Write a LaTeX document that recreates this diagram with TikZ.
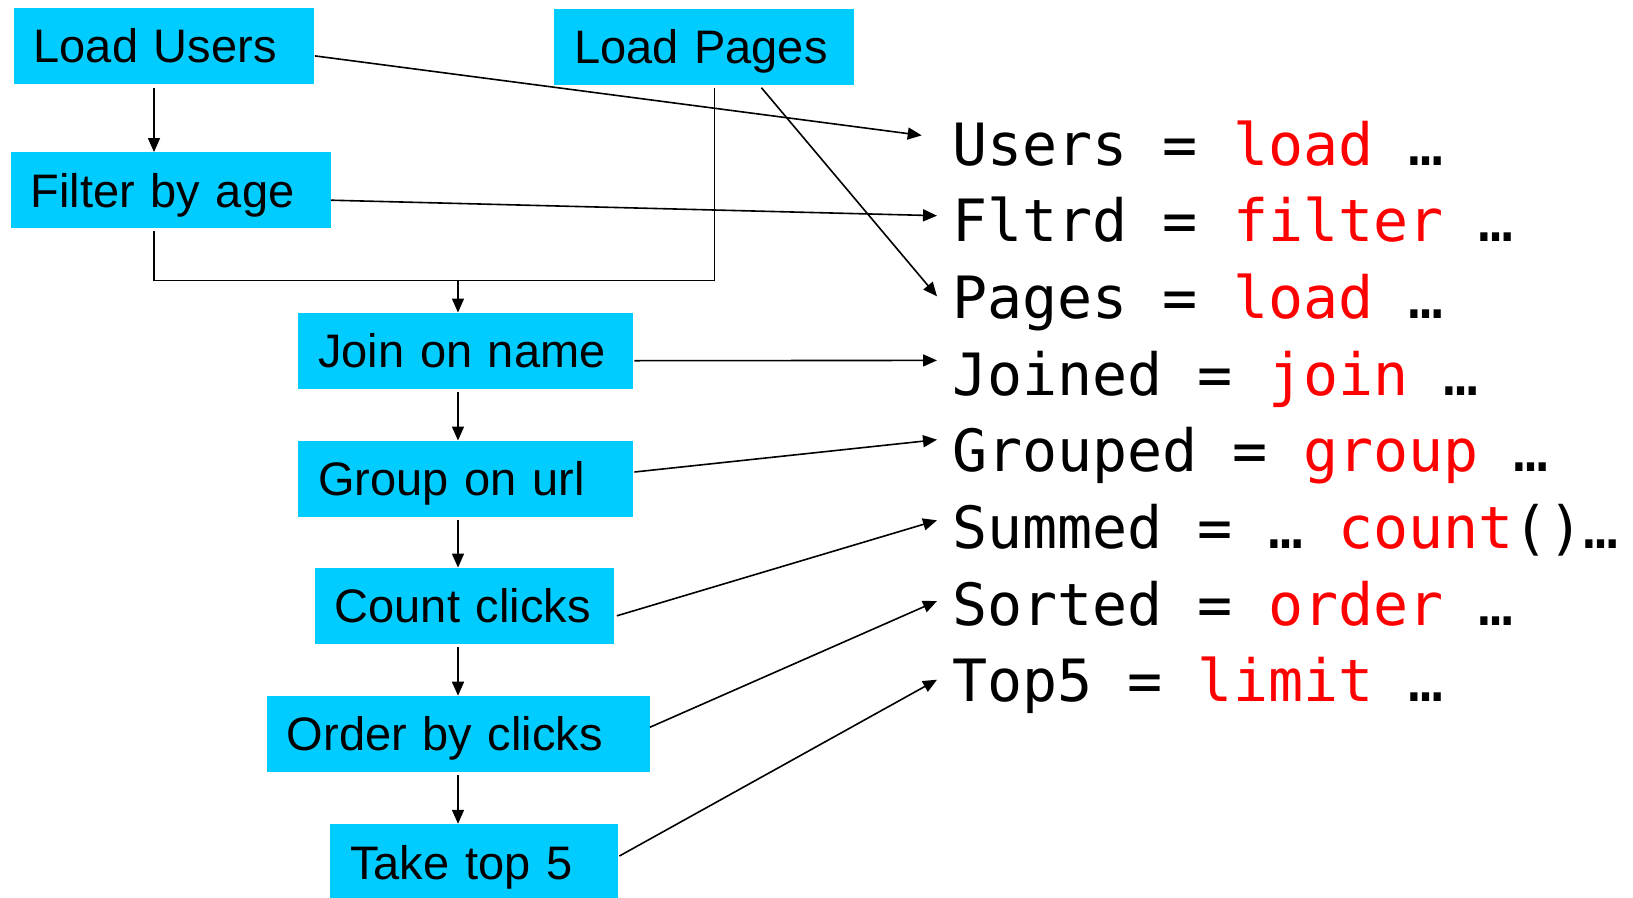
\documentclass[tikz,border=0pt]{standalone}
\usepackage{fontspec}
\setmainfont{Liberation Sans}
\newfontfamily\codefont{DejaVu Sans Mono}
\usetikzlibrary{arrows.meta,calc}
\definecolor{boxcyan}{RGB}{0,204,255}
\definecolor{kwred}{RGB}{255,0,0}
\begin{document}
\begin{tikzpicture}[x=1pt,y=-1pt,
  opbox/.style={fill=boxcyan, anchor=north west, inner xsep=20pt, inner ysep=0pt,
    minimum height=76pt, text height=34pt, text depth=0pt, align=left,
    font=\fontsize{47}{56}\selectfont},
  code/.style={anchor=base west, inner sep=0pt, font=\codefont\fontsize{58.3}{70}\selectfont},
  conn/.style={line width=1.6pt, -{Triangle[length=14pt,width=12pt]}},
  link/.style={line width=1.6pt}]
\fill[white] (0,0) rectangle (1633,897);
\useasboundingbox (0,0) rectangle (1633,897);

% operator boxes
\node[opbox, text width=260pt] (lu) at (13.5,7.3) {Load Users};
\node[opbox, text width=260pt] (lp) at (554,8.3) {Load Pages};
\node[opbox, text width=280pt] (fa) at (10.4,152) {Filter by age};
\node[opbox, text width=295pt] (jn) at (298,312.5) {Join on name};
\node[opbox, text width=295pt] (gu) at (298,440.5) {Group on url};
\node[opbox, text width=259pt] (cc) at (314.5,567.6) {Count clicks};
\node[opbox, text width=343pt] (ob) at (266.6,695.7) {Order by clicks};
\node[opbox, text width=248pt] (tt) at (330,823.8) {Take top 5};

% code lines
\node[code] (t1) at (952,165) {Users = \textcolor{kwred}{load} …};
\node[code] (t2) at (952,241.7) {Fltrd = \textcolor{kwred}{filter} …};
\node[code] (t3) at (952,318.3) {Pages = \textcolor{kwred}{load} …};
\node[code] (t4) at (952,395) {Joined = \textcolor{kwred}{join} …};
\node[code] (t5) at (952,471.7) {Grouped = \textcolor{kwred}{group} …};
\node[code] (t6) at (952,548.3) {Summed = … \textcolor{kwred}{count}()…};
\node[code] (t7) at (952,625) {Sorted = \textcolor{kwred}{order} …};
\node[code] (t8) at (952,701.7) {Top5 = \textcolor{kwred}{limit} …};

% helper coordinates
\coordinate (luS) at ($(lu.south west)+(140.5,4)$);
\coordinate (faS) at ($(fa.south west)+(143.6,3)$);
\coordinate (lpS) at ($(lp.south west)+(160.5,3)$);
\coordinate (mrg) at ($(faS)+(0,49)$);
\coordinate (jnIn) at ($(jn.north west)+(160,0)$);

% left flow
\draw[conn] (luS) -- (luS |- fa.north);
\draw[link] (faS) -- (mrg) -| (lpS);
\draw[conn] (mrg -| jnIn) -- (jnIn);
\draw[conn, shorten <=3pt] (jn.south -| jnIn) -- (gu.north -| jnIn);
\draw[conn, shorten <=3pt] (gu.south -| jnIn) -- (cc.north -| jnIn);
\draw[conn, shorten <=3pt] (cc.south -| jnIn) -- (ob.north -| jnIn);
\draw[conn, shorten <=3pt] (ob.south -| jnIn) -- (tt.north -| jnIn);

% links to code
\draw[conn] ($(lu.east)+(1,10.4)$) -- ($(t1.base west)+(-30.3,-29.6)$);
\draw[conn] ($(fa.east)+(0,10)$) -- ($(t2.base west)+(-15,-26)$);
\draw[conn] ($(lp.south west)+(207.4,3)$) -- ($(t3.base west)+(-15,-22)$);
\draw[conn] ($(jn.east)+(1,10)$) -- ($(t4.base west)+(-15,-34.6)$);
\draw[conn] ($(gu.east)+(1,-6.7)$) -- ($(t5.base west)+(-15,-32)$);
\draw[conn] ($(cc.east)+(3,10)$) -- ($(t6.base west)+(-15,-28)$);
\draw[conn] ($(ob.east)+(0,-6.7)$) -- ($(t7.base west)+(-15,-24)$);
\draw[conn] ($(tt.east)+(1,-6)$) -- ($(t8.base west)+(-15,-22)$);
\end{tikzpicture}
\end{document}
